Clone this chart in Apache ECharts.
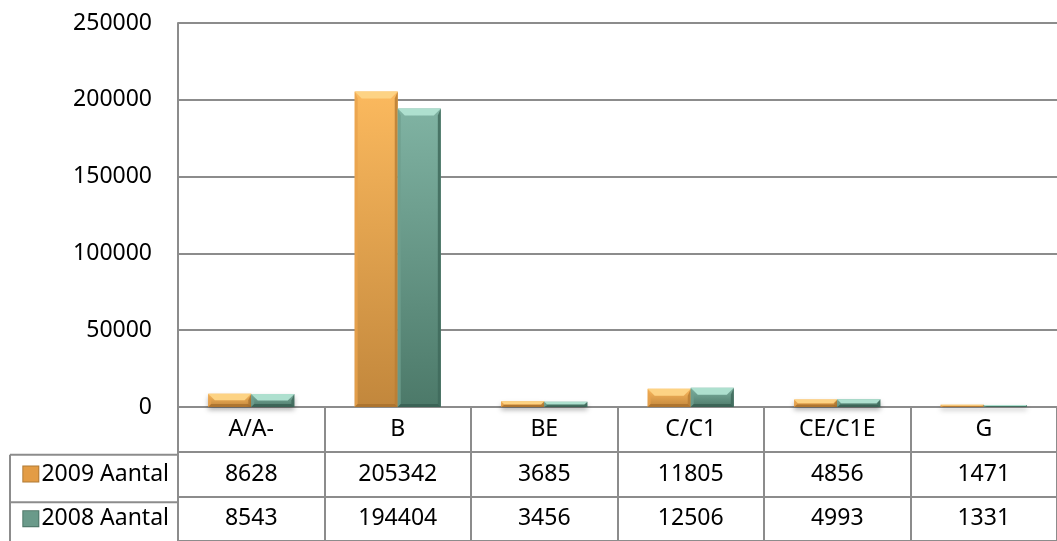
<!DOCTYPE html>
<html>
<head>
<meta charset="utf-8">
<script src="https://cdn.jsdelivr.net/npm/echarts@6/dist/echarts.min.js"></script>
<style>
html,body{margin:0;padding:0;background:#fff;}
#c{width:1057px;height:541px;}
</style>
</head>
<body>
<div id="c"></div>
<script>
const categories = ['A/A-', 'B', 'BE', 'C/C1', 'CE/C1E', 'G'];
const aantal2009 = [8628, 205342, 3685, 11805, 4856, 1471];
const aantal2008 = [8543, 194404, 3456, 12506, 4993, 1331];
const seriesNames = ['2009 Aantal', '2008 Aantal'];
const tableRows = ['hdr', '2009 Aantal', '2008 Aantal'];
const yMin = 0, yMax = 250000, yInterval = 50000;

const FONT = 'Noto Sans';
const FS = 23;
const GRID = '#8c8c8c';

const palettes = [
  { top: '#FBB95E', bottom: '#C2873C', cap: '#FDD384', edgeL: '#E9A24E', edgeR: '#B87E35', base: '#A86F2C', icon: '#E39C45' },
  { top: '#80B3A3', bottom: '#4C7969', cap: '#AEE0CF', edgeL: '#6E9F8F', edgeR: '#406A5C', base: '#375E51', icon: '#6A9A8A' }
];

function barRenderer(sIdx) {
  return function (params, api) {
    const xi = api.value(0), v = api.value(1);
    const base = api.coord([xi, 0]);
    const top = api.coord([xi, v]);
    const band = api.size([1, 0])[0];
    const bw = band * 0.294;
    const L = sIdx === 0 ? base[0] - bw : base[0];
    const T = top[1];
    const W = bw;
    const H = base[1] - top[1];
    const dt = Math.max(0, Math.min(7, H / 2, W / 2));
    const ds = Math.max(0, Math.min(3, W / 2));
    const db = Math.max(0, Math.min(3, H / 3));
    const p = palettes[sIdx];
    const R = L + W, B = T + H;
    return {
      type: 'group',
      children: [
        { type: 'rect', shape: { x: L, y: T, width: W, height: H },
          style: { fill: { type: 'linear', x: 0, y: 0, x2: 0, y2: 1, colorStops: [
            { offset: 0, color: p.top }, { offset: 1, color: p.bottom }] },
            shadowBlur: 5, shadowColor: 'rgba(0,0,0,0.3)', shadowOffsetY: 3 } },
        { type: 'polygon', shape: { points: [[L, T], [L + ds, T + dt], [L + ds, B - db], [L, B]] }, style: { fill: p.edgeL, opacity: 0.8 } },
        { type: 'polygon', shape: { points: [[R, T], [R - ds, T + dt], [R - ds, B - db], [R, B]] }, style: { fill: p.edgeR, opacity: 0.85 } },
        { type: 'polygon', shape: { points: [[L, B], [R, B], [R - ds, B - db], [L + ds, B - db]] }, style: { fill: p.base, opacity: 0.8 } },
        { type: 'polygon', shape: { points: [[L, T], [R, T], [R - dt, T + dt], [L + dt, T + dt]] }, style: { fill: p.cap } }
      ]
    };
  };
}

const tableData = [];
categories.forEach((c, i) => {
  tableData.push([i, 0, c]);
  tableData.push([i, 1, String(aantal2009[i])]);
  tableData.push([i, 2, String(aantal2008[i])]);
});

const chart = echarts.init(document.getElementById('c'), null, { renderer: 'canvas' });

const option = {
  animation: false,
  backgroundColor: '#fff',
  textStyle: { fontFamily: FONT },
  grid: [
    { left: 178, right: 0, top: 23, bottom: 134 },
    { left: 178, right: 0, top: 407, height: 143 }
  ],
  xAxis: [
    { type: 'category', gridIndex: 0, data: categories, boundaryGap: true,
      axisLine: { show: true, lineStyle: { color: GRID, width: 2 } },
      axisTick: { show: false }, axisLabel: { show: false }, splitLine: { show: false } },
    { type: 'category', gridIndex: 1, data: categories, boundaryGap: true,
      axisLine: { show: false }, axisTick: { show: false }, axisLabel: { show: false },
      splitLine: { show: true, lineStyle: { color: GRID, width: 2 } } }
  ],
  yAxis: [
    { type: 'value', gridIndex: 0, min: yMin, max: yMax, interval: yInterval,
      axisLine: { show: true, lineStyle: { color: GRID, width: 2 } },
      axisTick: { show: false },
      axisLabel: { color: '#000', fontSize: FS, fontFamily: FONT, margin: 26, formatter: v => String(v) },
      splitLine: { show: true, lineStyle: { color: GRID, width: 2 } } },
    { type: 'category', gridIndex: 1, data: tableRows, inverse: true,
      axisLine: { show: true, lineStyle: { color: GRID, width: 2 } },
      axisTick: { show: false },
      axisLabel: {
        margin: 9, align: 'right',
        formatter: function (v, i) { return v === 'hdr' ? '' : '{ic' + (i - 1) + '|} {t|' + v + '}'; },
        rich: {
          ic0: { width: 15, height: 15, backgroundColor: palettes[0].icon, borderColor: '#B07A35', borderWidth: 1 },
          ic1: { width: 15, height: 15, backgroundColor: palettes[1].icon, borderColor: '#4C7466', borderWidth: 1 },
          t: { fontSize: FS, color: '#000', fontFamily: FONT }
        }
      },
      splitLine: { show: true, interval: 0, lineStyle: { color: GRID, width: 2 } } }
  ],
  series: [
    { name: seriesNames[0], type: 'custom', xAxisIndex: 0, yAxisIndex: 0,
      data: aantal2009.map((v, i) => [i, v]), renderItem: barRenderer(0) },
    { name: seriesNames[1], type: 'custom', xAxisIndex: 0, yAxisIndex: 0,
      data: aantal2008.map((v, i) => [i, v]), renderItem: barRenderer(1) },
    { name: 'table', type: 'custom', xAxisIndex: 1, yAxisIndex: 1, data: tableData,
      renderItem: function (params, api) {
        const pt = api.coord([api.value(0), api.value(1)]);
        return { type: 'text', x: pt[0], y: pt[1],
          style: { text: tableData[params.dataIndex][2], fill: '#000', fontSize: FS, fontFamily: FONT,
            align: 'center', verticalAlign: 'middle' } };
      } }
  ]
};
chart.setOption(option);

// left header column borders of the data table
const rowH = 143 / tableRows.length;
const y1 = 407 + rowH, y2 = 407 + 2 * rowH;
chart.setOption({
  graphic: [
    { type: 'line', shape: { x1: 10, y1: y1, x2: 178, y2: y1 }, style: { stroke: GRID, lineWidth: 2 } },
    { type: 'line', shape: { x1: 10, y1: y2, x2: 178, y2: y2 }, style: { stroke: GRID, lineWidth: 2 } },
    { type: 'line', shape: { x1: 10, y1: y1, x2: 10, y2: 560 }, style: { stroke: GRID, lineWidth: 2 } }
  ]
});
</script>
</body>
</html>
